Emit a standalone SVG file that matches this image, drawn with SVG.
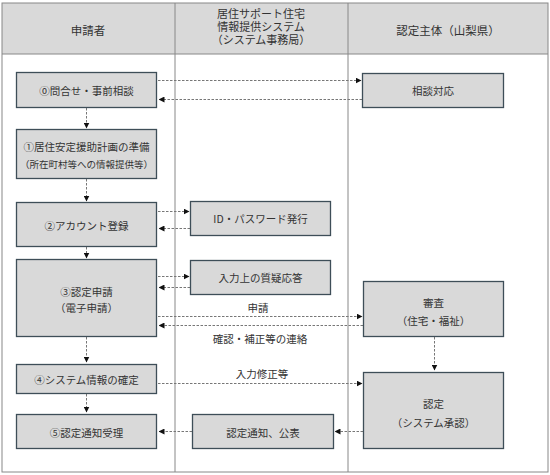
<svg xmlns="http://www.w3.org/2000/svg" width="550" height="475" viewBox="0 0 550 475">
<style>
text{font-family:"Noto Sans CJK JP","Noto Sans",sans-serif;fill:#333;text-anchor:middle;dominant-baseline:central}
.hd{font-size:11.5px}
.hm{font-size:11px;font-family:"Liberation Sans","Noto Sans CJK JP",sans-serif}
.t{font-size:10.5px}
.s{font-size:9.5px}
.box{fill:#d9d9d9;stroke:#3e4e58;stroke-width:1.3}
.c{stroke:#777;stroke-width:1;stroke-dasharray:2.5,1.5;fill:none;marker-end:url(#ah)}
.grid{stroke:#888;stroke-width:1;fill:none}
</style>
<defs>
<marker id="ah" markerWidth="6" markerHeight="6" refX="5.5" refY="3" orient="auto" markerUnits="userSpaceOnUse">
<path d="M0,0 L6,3 L0,6 Z" fill="#111"/>
</marker>
</defs>
<rect width="550" height="475" fill="#fff"/>
<g id="frame">
<rect x="2" y="3" width="546" height="51" fill="#d9d9d9"/>
<rect x="2" y="3" width="546" height="469" class="grid"/>
<line x1="2" y1="54" x2="548" y2="54" class="grid"/>
<line x1="175" y1="3" x2="175" y2="472" class="grid"/>
<line x1="348" y1="3" x2="348" y2="472" class="grid"/>
<text class="hd" x="88" y="30">申請者</text>
<text class="hm" x="261" y="14">居住サポート住宅</text>
<text class="hm" x="261" y="27">情報提供システム</text>
<text class="hm" x="261" y="40">（システム事務局）</text>
<text class="hd" x="448" y="30">認定主体（山梨県）</text>
</g>
<g id="connectors">
<line class="c" x1="158" y1="80.5" x2="361" y2="80.5"/>
<line class="c" x1="362" y1="99.5" x2="159" y2="99.5"/>
<line class="c" x1="86.5" y1="108" x2="86.5" y2="128"/>
<line class="c" x1="86.5" y1="179" x2="86.5" y2="201"/>
<line class="c" x1="158" y1="211.5" x2="189" y2="211.5"/>
<line class="c" x1="190" y1="228.5" x2="159" y2="228.5"/>
<line class="c" x1="86.5" y1="247" x2="86.5" y2="258"/>
<line class="c" x1="158" y1="276.5" x2="189" y2="276.5"/>
<line class="c" x1="190" y1="287.5" x2="159" y2="287.5"/>
<line class="c" x1="158" y1="316.5" x2="362" y2="316.5"/>
<line class="c" x1="363" y1="325.5" x2="159" y2="325.5"/>
<line class="c" x1="86.5" y1="337" x2="86.5" y2="362"/>
<line class="c" x1="434.5" y1="337" x2="434.5" y2="370"/>
<line class="c" x1="158" y1="383.5" x2="362" y2="383.5"/>
<line class="c" x1="86.5" y1="394" x2="86.5" y2="412"/>
<line class="c" x1="363" y1="431.5" x2="335" y2="431.5"/>
<line class="c" x1="192" y1="431.5" x2="159" y2="431.5"/>
<text class="t" x="258" y="307">申請</text>
<text class="t" x="260" y="338">確認・補正等の連絡</text>
<text class="t" x="262" y="373">入力修正等</text>
</g>
<g id="n0"><rect class="box" x="16.5" y="72.5" width="140" height="35"/><text class="t" x="86.5" y="90">⓪問合せ・事前相談</text></g>
<g id="n_soudan"><rect class="box" x="362.5" y="73.5" width="141" height="34"/><text class="t" x="433" y="90.5">相談対応</text></g>
<g id="n1"><rect class="box" x="16.5" y="129.5" width="140" height="49"/><text class="t" x="86.5" y="146">①居住安定援助計画の準備</text><text class="s" x="86.5" y="164">（所在町村等への情報提供等）</text></g>
<g id="n2"><rect class="box" x="16.5" y="202.5" width="140" height="44"/><text class="t" x="86.5" y="225">②アカウント登録</text></g>
<g id="n_id"><rect class="box" x="190.5" y="201.5" width="140" height="34"/><text class="t" x="260.5" y="218.5">ID・パスワード発行</text></g>
<g id="n3"><rect class="box" x="16.5" y="259.5" width="140" height="77"/><text class="t" x="86.5" y="291">③認定申請</text><text class="t" x="86.5" y="307">（電子申請）</text></g>
<g id="n_qa"><rect class="box" x="190.5" y="260.5" width="140" height="34"/><text class="t" x="260.5" y="277.5">入力上の質疑応答</text></g>
<g id="n_shinsa"><rect class="box" x="363.5" y="281.5" width="140" height="55"/><text class="t" x="433.5" y="302">審査</text><text class="t" x="433.5" y="320">（住宅・福祉）</text></g>
<g id="n4"><rect class="box" x="16.5" y="364.5" width="140" height="29"/><text class="t" x="86.5" y="379">④システム情報の確定</text></g>
<g id="n5"><rect class="box" x="16.5" y="414.5" width="140" height="34"/><text class="t" x="86.5" y="432">⑤認定通知受理</text></g>
<g id="n_tsuchi"><rect class="box" x="192.5" y="414.5" width="141" height="34"/><text class="t" x="263" y="432">認定通知、公表</text></g>
<g id="n_nintei"><rect class="box" x="363.5" y="372.5" width="140" height="76"/><text class="t" x="433.5" y="403">認定</text><text class="t" x="433.5" y="422">（システム承認）</text></g>
</svg>
